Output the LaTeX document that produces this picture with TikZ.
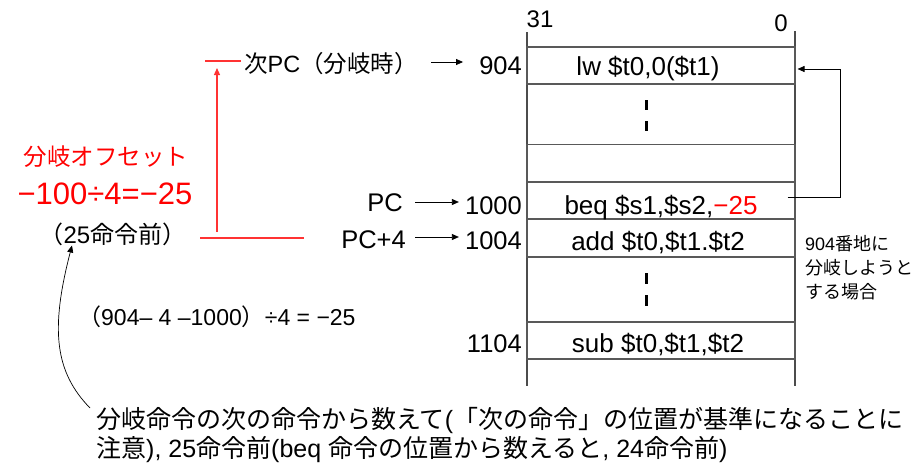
\documentclass[tikz,border=0pt]{standalone}
\usepackage{fontspec}
\setmainfont{Liberation Sans}
\newfontfamily\jpfont{Noto Sans CJK JP}
\usetikzlibrary{arrows.meta,calc}
\newcommand{\J}[1]{{\jpfont #1}}
\newcommand{\fsz}[1]{\fontsize{#1}{#1}\selectfont}
\begin{document}
\begin{tikzpicture}[x=1pt,y=-1pt,
  arr/.style={-{Triangle[length=7pt,width=6pt]}, line width=0.8pt},
  membox/.style={draw=black!65, line width=1.1pt, minimum width=268pt, minimum height=37pt, inner sep=0pt},
  col/.style={draw=black!70, line width=1.1pt},
  lbl/.style={inner sep=0pt, font=\fsz{25.5}},
  code/.style={inner sep=0pt, font=\fsz{26}},
  redl/.style={draw=red!80, line width=1.2pt},
  dots/.style={line width=3pt}]
\useasboundingbox (0,0) rectangle (917,464);

% memory column
\draw[col] (527,32) -- (527,386);
\draw[col] (795,31) -- (795,386);
\node[inner sep=0pt, font=\fsz{24}, anchor=base] (b31) at (540,27) {31};
\node[inner sep=0pt, font=\fsz{24}, anchor=base] (b0) at (781,31) {0};

\node[membox] (lw) at (661,65.5) {};
\node[membox] (emp) at (661,163) {};
\node[membox] (beq) at (661,200.5) {};
\node[membox, minimum height=38pt] (add) at (661,238) {};
\node[membox] (sub) at (661,340.5) {};

\node[code, anchor=base] (tlw) at (648,75) {lw \$t0,0(\$t1)};
\node[code, anchor=base] (tbeq) at (661,214) {beq \$s1,\$s2,\textcolor{red}{−25}};
\node[code, anchor=base] (tadd) at (658,250) {add \$t0,\$t1.\$t2};
\node[code, anchor=base] (tsub) at (658,352) {sub \$t0,\$t1,\$t2};

\draw[dots] (646,100) -- (646,110) (646,121) -- (646,131);
\draw[dots] (646,273) -- (646,284) (646,295) -- (646,306);

% addresses
\node[lbl, anchor=base east] (a904) at (522,74) {904};
\node[lbl, anchor=base east] (a1000) at (522,214) {1000};
\node[lbl, anchor=base east] (a1004) at (522,249) {1004};
\node[lbl, anchor=base east] (a1104) at (522,352) {1104};

% PC labels
\node[lbl, anchor=base east] (pc) at (403,211) {PC};
\node[lbl, anchor=base east] (pc4) at (406,248) {PC+4};
\draw[arr] ([xshift=12pt]pc.east |- 0,202) -- ([xshift=-6pt]a1000.west |- 0,202);
\draw[arr] ([xshift=9pt]pc4.east |- 0,237) -- ([xshift=-6pt]a1004.west |- 0,237);

\node[inner sep=0pt, font=\fsz{23.5}, anchor=base west] (npc) at (244,72) {\J{次}PC\J{（分岐時）}};
\draw[arr] ([xshift=13pt]npc.east |- 0,62) -- ([xshift=-16pt]a904.west |- 0,62);

% loop arrow
\draw[arr, line width=0.9pt] ($(beq.east)+(-8,-3.5)$) -- ++(53,0) |- ($(lw.east)+(2,3.5)$);

\node[inner sep=0pt, anchor=west, align=left, font=\fontsize{18}{24}\selectfont\jpfont, text depth=0pt] (note) at (805,267)
  {{\fontspec{Liberation Sans}904}番地に\\分岐しようと\\する場合};

% red part
\node[inner sep=0pt, text=red, font=\fsz{23.5}\jpfont] (ofs) at (106,157) {分岐オフセット};
\node[inner sep=0pt, text=red, font=\fsz{31}, anchor=base] (calc) at (105,204) {−100÷4=−25};
\node[inner sep=0pt, font=\fsz{24}, anchor=base] (n25) at (113,243) {\J{（}25\J{命令前）}};

\coordinate (r1) at (200,238);
\coordinate (r2) at (304,238);
\coordinate (r3) at (205,61);
\coordinate (r4) at (241,61);
\draw[redl] (r1) -- (r2);
\draw[redl] (r3) -- (r4);
\draw[redl, arr, line width=1.2pt, draw=red!80, fill=red!80] (217,232) -- (217,68);

% formula
\node[inner sep=0pt, font=\fsz{23}, anchor=base west] (form) at (78,325) {\J{（}904– 4 –1000\J{）}÷4 = −25};

% bottom note
\node[inner sep=0pt, font=\fsz{25}, anchor=base west] (bl1) at (96,428) {\J{分岐命令の次の命令から数えて}(\J{「次の命令」の位置が基準になることに}};
\node[inner sep=0pt, font=\fsz{25}, anchor=base west] (bl2) at (96,457) {\J{注意}), 25\J{命令前}(beq \J{命令の位置から数えると}, 24\J{命令前})};

\coordinate (cs) at (90,408);
\draw[arr, line width=0.7pt] (cs) .. controls (55,372) and (50,330) .. (n25.south -| 72,0);
\end{tikzpicture}
\end{document}
